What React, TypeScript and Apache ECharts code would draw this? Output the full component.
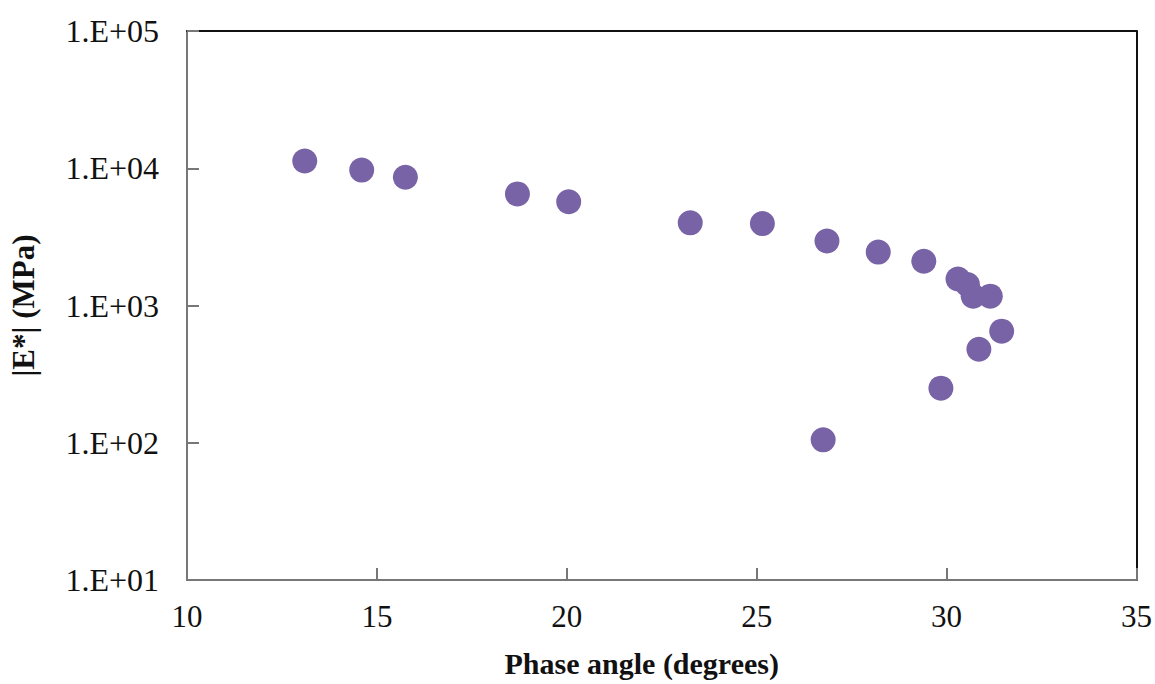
import React, { useEffect, useRef } from "react";
import * as echarts from "echarts";

const phaseAngle = [13.1, 14.6, 15.75, 18.7, 20.05, 23.25, 25.15, 26.85, 28.2, 29.4, 30.3, 30.55, 30.7, 31.15, 31.45, 30.85, 29.85, 26.75];
const modulus = [11300, 9700, 8600, 6500, 5700, 4000, 3950, 2950, 2450, 2100, 1560, 1420, 1170, 1170, 650, 480, 250, 105];
const xTicks = [10, 15, 20, 25, 30, 35];
const yTickLabels = ["1.E+01", "1.E+02", "1.E+03", "1.E+04", "1.E+05"];

export default function App() {
  const ref = useRef<HTMLDivElement>(null);
  useEffect(() => {
    const chart = echarts.init(ref.current!, null, { renderer: "svg" });
    const font = "'Liberation Serif', 'Times New Roman', serif";
    chart.setOption({
      animation: false,
      backgroundColor: "#ffffff",
      grid: { left: 184, top: 31, right: 18, bottom: 104 },
      xAxis: [
        {
          type: "value",
          min: xTicks[0],
          max: xTicks[xTicks.length - 1],
          interval: 5,
          name: "Phase angle (degrees)",
          nameLocation: "middle",
          nameGap: 68,
          nameTextStyle: { fontFamily: font, fontSize: 30, fontWeight: "bold", color: "#111", padding: [0, 40, 0, 0] },
          axisLine: { lineStyle: { color: "#777", width: 2 } },
          axisTick: { inside: true, length: 12, lineStyle: { color: "#777", width: 2 } },
          axisLabel: { fontFamily: font, fontSize: 31, color: "#111", margin: 21 },
          splitLine: { show: false },
        },
        {
          type: "value",
          position: "top",
          min: 10,
          max: 35,
          axisLine: { lineStyle: { color: "#111", width: 2 } },
          axisTick: { show: false },
          axisLabel: { show: false },
          splitLine: { show: false },
        },
      ],
      yAxis: [
        {
          type: "log",
          logBase: 10,
          min: 10,
          max: 100000,
          name: "|E*| (MPa)",
          nameLocation: "middle",
          nameGap: 148,
          nameTextStyle: { fontFamily: font, fontSize: 31, fontWeight: "bold", color: "#111" },
          axisLine: { show: true, lineStyle: { color: "#777", width: 2 } },
          axisTick: { show: true, inside: true, length: 12, lineStyle: { color: "#777", width: 2 } },
          minorTick: { show: false },
          axisLabel: {
            fontFamily: font,
            fontSize: 32,
            color: "#111",
            margin: 28,
            formatter: (v: number) => {
              const i = Math.round(Math.log10(v)) - 1;
              return yTickLabels[i] ?? "";
            },
          },
          splitLine: { show: false },
        },
        {
          type: "log",
          position: "right",
          min: 10,
          max: 100000,
          axisLine: { show: true, lineStyle: { color: "#111", width: 2 } },
          axisTick: { show: false },
          axisLabel: { show: false },
          splitLine: { show: false },
        },
      ],
      series: [
        {
          type: "scatter",
          symbol: "circle",
          symbolSize: 25,
          itemStyle: { color: "#7763a5", opacity: 1 },
          data: phaseAngle.map((x, i) => [x, modulus[i]]),
        },
      ],
    });
    return () => chart.dispose();
  }, []);
  return (
    <div
      ref={ref}
      style={{ position: "fixed", left: 0, top: 0, width: 1155, height: 684, background: "#fff" }}
    />
  );
}
